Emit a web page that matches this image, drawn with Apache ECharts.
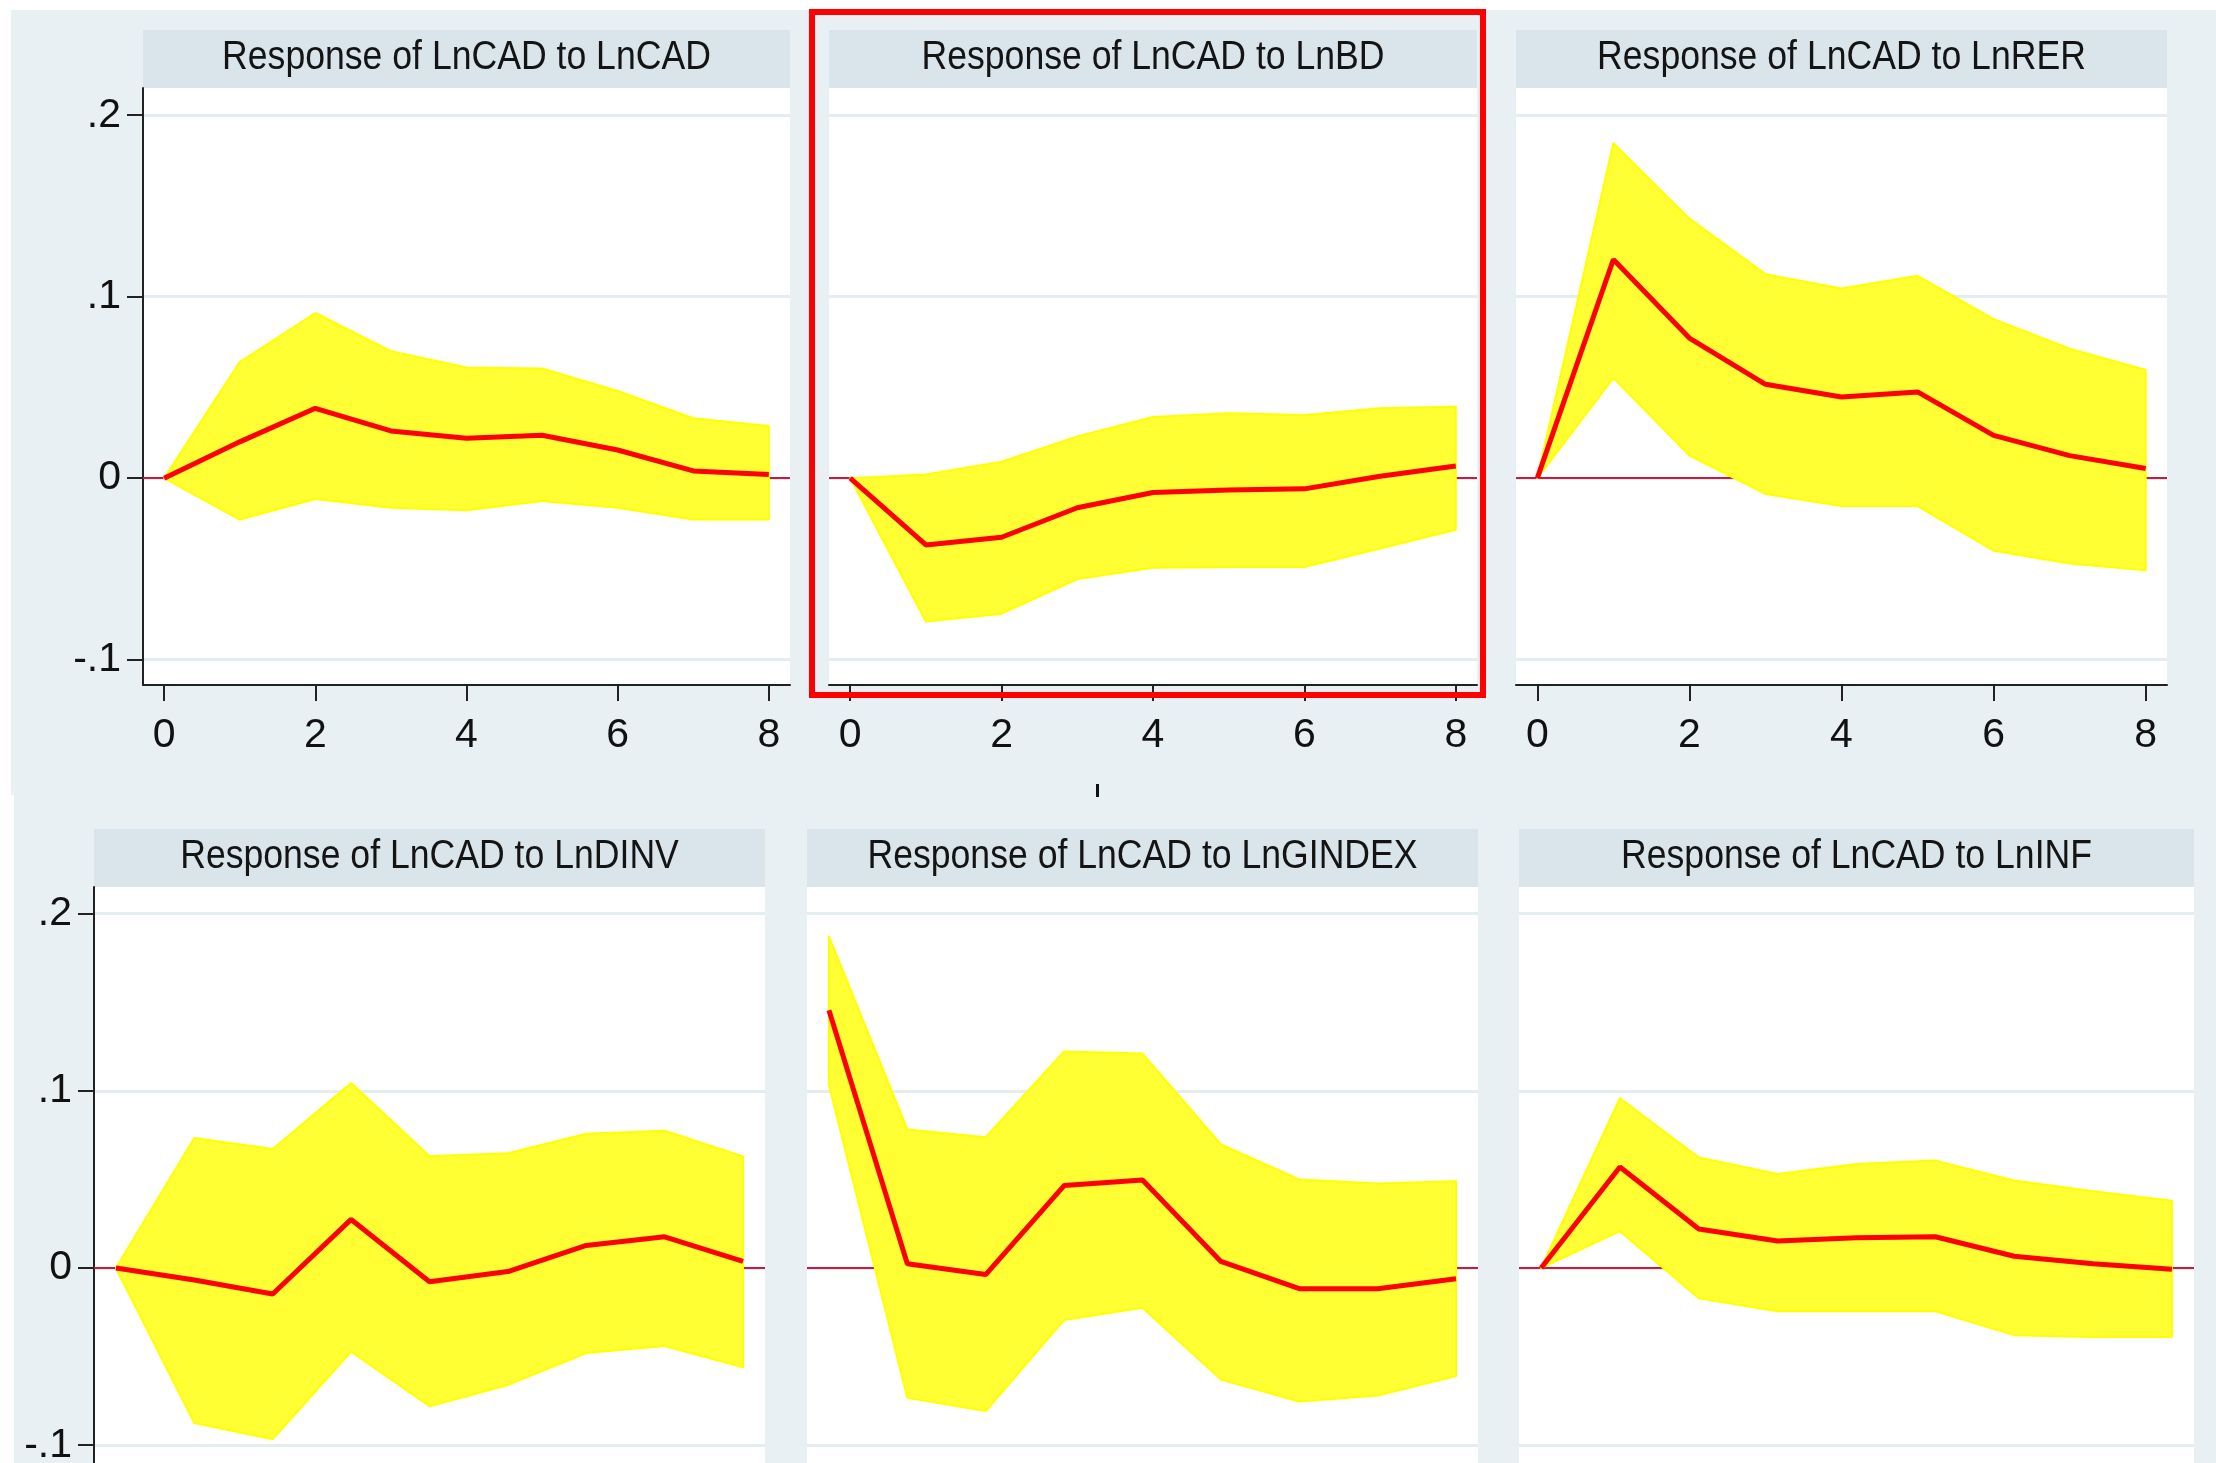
<!DOCTYPE html>
<html>
<head>
<meta charset="utf-8">
<style>html,body{margin:0;padding:0;background:#fff;}#chart{width:2216px;height:1463px;}</style>
<script src="https://cdn.jsdelivr.net/npm/echarts@6/dist/echarts.min.js"></script>
</head>
<body>
<div id="chart"></div>
<script>
// ---------------- data ----------------
const steps = [0, 1, 2, 3, 4, 5, 6, 7, 8];
const xTicks = [0, 2, 4, 6, 8];
const yTicks = [-0.1, 0, 0.1, 0.2];

const titles = [
  'Response of LnCAD to LnCAD',
  'Response of LnCAD to LnBD',
  'Response of LnCAD to LnRER',
  'Response of LnCAD to LnDINV',
  'Response of LnCAD to LnGINDEX',
  'Response of LnCAD to LnINF'
];

const cadIrf = [0, 0.020, 0.0385, 0.026, 0.022, 0.0236, 0.0155, 0.004, 0.002];
const cadLo  = [0, -0.0228, -0.0115, -0.0163, -0.0177, -0.0126, -0.0163, -0.0228, -0.0228];
const cadHi  = [0, 0.064, 0.091, 0.070, 0.061, 0.0604, 0.048, 0.033, 0.0287];

const bdIrf = [0, -0.0368, -0.0326, -0.0163, -0.0079, -0.0065, -0.0059, 0.001, 0.0067];
const bdLo  = [0, -0.079, -0.0747, -0.0556, -0.0494, -0.049, -0.049, -0.0388, -0.0284];
const bdHi  = [0, 0.002, 0.009, 0.023, 0.0337, 0.0357, 0.0348, 0.0385, 0.0393];

const rerIrf = [0, 0.1205, 0.0772, 0.0517, 0.0447, 0.0475, 0.0236, 0.0124, 0.0053];
const rerLo  = [0, 0.0553, 0.0124, -0.0087, -0.0154, -0.0154, -0.040, -0.047, -0.0508];
const rerHi  = [0, 0.1846, 0.143, 0.1124, 0.1045, 0.1115, 0.0876, 0.0713, 0.0596];

const dinvIrf = [0, -0.0068, -0.0147, 0.0274, -0.0078, -0.002, 0.0127, 0.0176, 0.0037];
const dinvLo  = [0, -0.0875, -0.0966, -0.0472, -0.078, -0.066, -0.048, -0.044, -0.056];
const dinvHi  = [0, 0.0733, 0.0672, 0.1044, 0.063, 0.0648, 0.0758, 0.0775, 0.063];

const gindexIrf = [0.1455, 0.0024, -0.0037, 0.0465, 0.0496, 0.0037, -0.0117, -0.0117, -0.0061];
const gindexLo  = [0.1034, -0.0733, -0.0807, -0.0293, -0.0225, -0.063, -0.0753, -0.072, -0.061];
const gindexHi  = [0.187, 0.0782, 0.0738, 0.1222, 0.121, 0.0697, 0.050, 0.0477, 0.0489];

const infIrf = [0, 0.057, 0.022, 0.0152, 0.0171, 0.0176, 0.0066, 0.0024, -0.0007];
const infLo  = [0, 0.0208, -0.0171, -0.0244, -0.0244, -0.0244, -0.0379, -0.039, -0.039];
const infHi  = [0, 0.0958, 0.0623, 0.053, 0.0587, 0.0606, 0.0494, 0.0433, 0.0379];

const irfs = [cadIrf, bdIrf, rerIrf, dinvIrf, gindexIrf, infIrf];
const los  = [cadLo, bdLo, rerLo, dinvLo, gindexLo, infLo];
const his  = [cadHi, bdHi, rerHi, dinvHi, gindexHi, infHi];

// ---------------- layout (positions / styles) ----------------
const X_MIN = -0.28, X_MAX = 8.28, Y_MIN = -0.114, Y_MAX = 0.215;
const layout = [
  {left: 143,  top: 88,  width: 647, height: 597, showY: true},
  {left: 829,  top: 88,  width: 648, height: 597, showY: false},
  {left: 1516, top: 88,  width: 651, height: 597, showY: false},
  {left: 94,   top: 887, width: 671, height: 583, showY: true},
  {left: 807,  top: 887, width: 671, height: 583, showY: false},
  {left: 1519, top: 887, width: 675, height: 583, showY: false}
];
const BAR_H = 58;
const FONT = "'Liberation Sans', Arial, sans-serif";
const BG = '#e8f0f3';
const BAR = '#d9e5eb';
const GRIDLINE = '#e4edf0';
const AXIS = '#222';
const ZERO = '#cc1a3a';
const FILL = '#ffff33';
const EDGE = '#ffff00';
const IRF = '#ff0000';

function yFmt(v) {
  if (v === 0) return '0';
  const s = String(Math.abs(v)).replace(/^0/, '');
  return (v < 0 ? '-' : '') + s;
}
const pairs = arr => steps.map((s, i) => [s, arr[i]]);

function bandRender(params, api) {
  if (params.dataIndexInside !== 0) return null;
  const n = params.dataInsideLength;
  const upper = [], lower = [];
  for (let j = 0; j < n; j++) {
    const x = api.value(0, j);
    lower.push(api.coord([x, api.value(1, j)]));
    upper.push(api.coord([x, api.value(2, j)]));
  }
  const pts = lower.concat(upper.reverse());
  return {
    type: 'polygon',
    shape: {points: pts},
    style: {fill: FILL, stroke: EDGE, lineWidth: 2, lineJoin: 'round'}
  };
}

const grid = [], xAxis = [], yAxis = [], series = [];
const graphic = [
  {type: 'rect', z: -20, silent: true, shape: {x: 11, y: 10, width: 2205, height: 785}, style: {fill: BG}},
  {type: 'rect', z: -20, silent: true, shape: {x: 14, y: 795, width: 2202, height: 668}, style: {fill: BG}},
  // small cut-off glyph fragment visible between the two rows
  {type: 'rect', z: -4, silent: true, shape: {x: 1096, y: 784, width: 3, height: 13}, style: {fill: '#111'}}
];

layout.forEach((p, i) => {
  grid.push({left: p.left, top: p.top, width: p.width, height: p.height,
    show: true, backgroundColor: '#ffffff', borderWidth: 0, containLabel: false,
    outerBoundsMode: 'none'});
  xAxis.push({
    gridIndex: i, type: 'value', min: X_MIN, max: X_MAX,
    axisLine: {show: true, onZero: false, lineStyle: {color: AXIS, width: 2}},
    axisTick: {show: true, length: 16, customValues: xTicks, lineStyle: {color: AXIS, width: 2}},
    axisLabel: {show: true, customValues: xTicks, margin: 30, fontSize: 41, fontFamily: FONT, color: '#111'},
    splitLine: {show: false}
  });
  yAxis.push({
    gridIndex: i, type: 'value', min: Y_MIN, max: Y_MAX,
    axisLine: {show: p.showY, onZero: false, lineStyle: {color: AXIS, width: 2}},
    axisTick: {show: p.showY, length: 16, customValues: yTicks, lineStyle: {color: AXIS, width: 2}},
    axisLabel: {show: p.showY, customValues: yTicks, formatter: yFmt, margin: 22, fontSize: 41, fontFamily: FONT, color: '#111'},
    splitLine: {show: true, lineStyle: {color: GRIDLINE, width: 3}}
  });
  // zero reference line
  series.push({
    type: 'line', xAxisIndex: i, yAxisIndex: i, z: 1, silent: true,
    data: pairs(irfs[i]), symbol: 'none', lineStyle: {opacity: 0},
    markLine: {silent: true, symbol: ['none', 'none'], label: {show: false},
      lineStyle: {color: ZERO, width: 2, type: 'solid'}, data: [{yAxis: 0}]}
  });
  // confidence band
  series.push({
    type: 'custom', xAxisIndex: i, yAxisIndex: i, z: 10, silent: true,
    renderItem: bandRender,
    encode: {x: 0, y: [1, 2]},
    data: steps.map((s, k) => [s, los[i][k], his[i][k]])
  });
  // impulse response
  series.push({
    type: 'line', xAxisIndex: i, yAxisIndex: i, z: 12, silent: true,
    data: pairs(irfs[i]), symbol: 'none', lineStyle: {color: IRF, width: 5}
  });
  // title bar
  graphic.push({type: 'rect', z: -5, silent: true,
    shape: {x: p.left, y: p.top - BAR_H, width: p.width, height: BAR_H}, style: {fill: BAR}});
  graphic.push({type: 'text', z: 20, silent: true,
    x: p.left + p.width / 2, y: p.top - BAR_H / 2 - 1, scaleX: 0.89,
    style: {text: titles[i], fontSize: 40, fontFamily: FONT, fill: '#141414', align: 'center', verticalAlign: 'middle'}});
});

// red highlight frame around the second panel
graphic.push({type: 'rect', z: 100, silent: true,
  shape: {x: 812, y: 12, width: 671, height: 683}, style: {fill: 'none', stroke: '#ff0000', lineWidth: 6}});

const chart = echarts.init(document.getElementById('chart'), null, {renderer: 'canvas'});
chart.setOption({
  backgroundColor: '#ffffff',
  animation: false,
  grid, xAxis, yAxis, series, graphic
});
</script>
</body>
</html>
